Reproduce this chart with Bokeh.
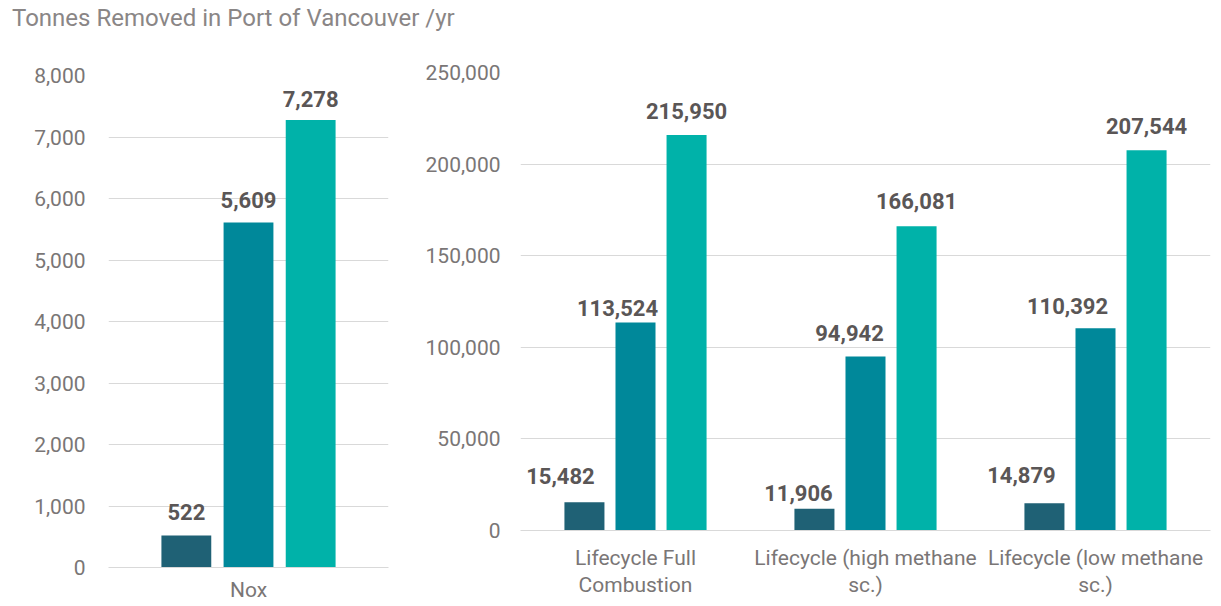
from bokeh.plotting import figure
from bokeh.layouts import row, column
from bokeh.models import ColumnDataSource, FactorRange, Range1d, NumeralTickFormatter, LabelSet, Div
from bokeh.transform import dodge
from bokeh.core.properties import value
from bokeh.embed import file_html
from bokeh.resources import INLINE

# ---- data ----
title_text = "Tonnes Removed in Port of Vancouver /yr"
left_categories = ["Nox"]
nox_s1 = [522]
nox_s2 = [5609]
nox_s3 = [7278]
right_categories = ["Lifecycle Full\nCombustion", "Lifecycle (high methane\nsc.)", "Lifecycle (low methane\nsc.)"]
ghg_s1 = [15482, 11906, 14879]
ghg_s2 = [113524, 94942, 110392]
ghg_s3 = [215950, 166081, 207544]

# ---- styling: label nudges (px) per series, per category ----
left_dx = [[0], [0], [0]]
left_dy = [[15], [15], [13]]
right_dx = [[-24, -16, -23], [-18, -16, -28], [0, 0, 0]]
right_dy = [[18, 8, 20], [7, 16, 14], [16, 17, 16]]

colors = ["#1F6175", "#00889A", "#00B2A9"]
FONT = "Roboto"
AXIS_COLOR = "#7a7676"
VAL_COLOR = "#5a5656"
GRID = "#d9d9d9"
TOP = 40      # height of title strip
TOTAL = 605   # total page height


def style(p, standoff):
    p.outline_line_color = None
    p.background_fill_color = "white"
    p.border_fill_color = "white"
    p.xgrid.grid_line_color = None
    p.ygrid.grid_line_color = GRID
    p.ygrid.grid_line_width = 1
    p.yaxis.axis_line_color = None
    p.yaxis.major_tick_line_color = None
    p.yaxis.minor_tick_line_color = None
    p.yaxis.major_label_text_font = FONT
    p.yaxis.major_label_text_font_size = "21px"
    p.yaxis.major_label_text_color = AXIS_COLOR
    p.yaxis.major_label_standoff = standoff
    p.yaxis.formatter = NumeralTickFormatter(format="0,0")
    p.xaxis.axis_line_color = GRID
    p.xaxis.axis_line_width = 1
    p.xaxis.major_tick_line_color = None
    p.xaxis.minor_tick_line_color = None
    p.xaxis.major_label_text_font = FONT
    p.xaxis.major_label_text_font_size = "21px"
    p.xaxis.major_label_text_color = AXIS_COLOR
    p.x_range.range_padding = 0
    p.x_range.group_padding = 0


def add_bars(p, cats, series, dxs, dys, off, w):
    for vals, col, o, dx, dy in zip(series, colors, [-off, 0, off], dxs, dys):
        src = ColumnDataSource(dict(x=cats, y=vals, lab=["{:,}".format(v) for v in vals],
                                    dx=dx, dy=dy))
        p.vbar(x=dodge("x", o, range=p.x_range), top="y", width=w, source=src,
               fill_color=col, line_color=None)
        p.add_layout(LabelSet(x=dodge("x", o, range=p.x_range), y="y", text="lab", source=src,
                              x_offset="dx", y_offset="dy",
                              text_align="center", text_baseline="bottom",
                              text_font=value(FONT), text_font_size=value("22px"),
                              text_font_style="bold", text_color=VAL_COLOR))


H = TOTAL - TOP

# ---- left figure ----
p1 = figure(x_range=FactorRange(*left_categories), y_range=Range1d(0, 8000),
            width=408, height=H, output_backend="svg", toolbar_location=None,
            min_border_left=108, min_border_right=20, min_border_top=75 - TOP,
            min_border_bottom=TOTAL - 567)
style(p1, 17)
p1.xaxis.major_label_standoff = 4
p1.xaxis.major_label_text_line_height = 1.0
p1.yaxis.ticker = list(range(0, 8001, 1000))
add_bars(p1, left_categories, [nox_s1, nox_s2, nox_s3], left_dx, left_dy, 0.222, 0.178)

# ---- right figure ----
p2 = figure(x_range=FactorRange(*right_categories), y_range=Range1d(0, 250000),
            width=805, height=H, output_backend="svg", toolbar_location=None,
            min_border_left=112, min_border_right=3, min_border_top=72 - TOP,
            min_border_bottom=TOTAL - 530)
style(p2, 14)
p2.xaxis.major_label_standoff = 9
p2.xaxis.major_label_text_line_height = 1.13
p2.yaxis.ticker = list(range(0, 250001, 50000))
add_bars(p2, right_categories, [ghg_s1, ghg_s2, ghg_s3], right_dx, right_dy, 0.222, 0.174)

title = Div(text=title_text, width=1213, height=TOP,
            styles={"font-family": FONT, "font-size": "24px", "color": "#8a8686",
                    "padding-left": "12px", "padding-top": "4px", "margin": "0",
                    "line-height": "28px"})

layout = column(title, row(column(p1), column(p2)))
open("out.html", "w").write(file_html(layout, INLINE))
